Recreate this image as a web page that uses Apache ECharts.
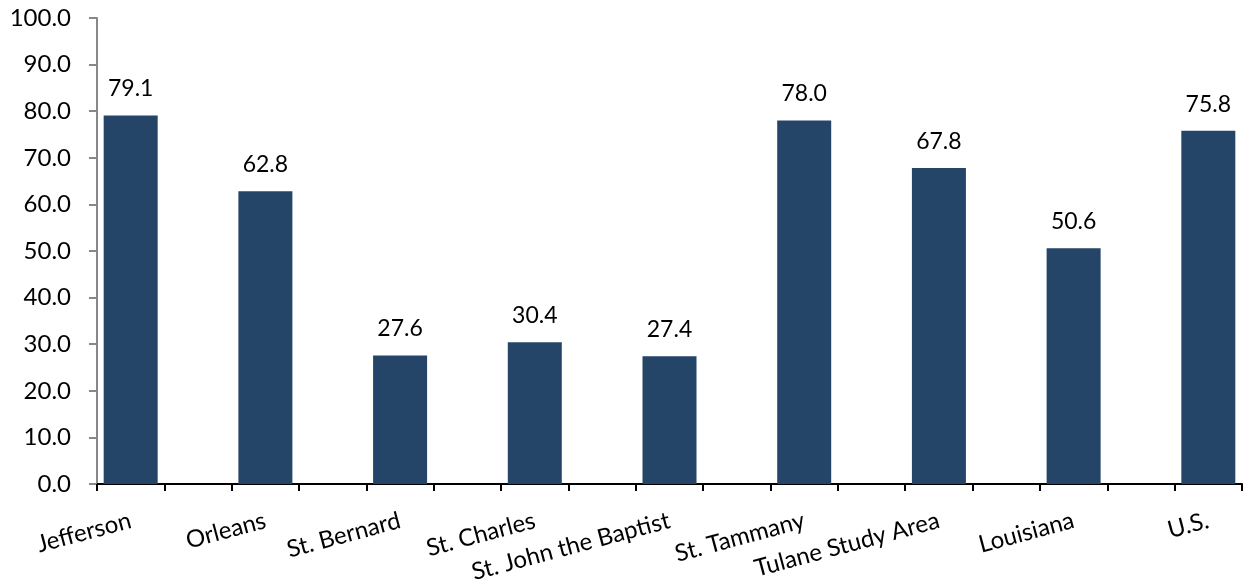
<!DOCTYPE html>
<html><head><meta charset="utf-8">
<script src="https://cdn.jsdelivr.net/npm/echarts@6/dist/echarts.min.js"></script>
<style>html,body{margin:0;padding:0;background:#fff}#c{width:1249px;height:588px}</style>
</head><body><div id="c"></div>
<script>
const categories = ['Jefferson','Orleans','St. Bernard','St. Charles','St. John the Baptist','St. Tammany','Tulane Study Area','Louisiana','U.S.'];
const values = [79.1, 62.8, 27.6, 30.4, 27.4, 78.0, 67.8, 50.6, 75.8];
const yTicks = [0, 10, 20, 30, 40, 50, 60, 70, 80, 90, 100];

// Each category occupies two slots on the axis (bar slot + empty slot), as in the original
const axisCats = [];
const axisVals = [];
categories.forEach((c, i) => {
  axisCats.push(c); axisVals.push(values[i]);
  if (i < categories.length - 1) { axisCats.push(' ' + i); axisVals.push('-'); }
});

const FONT = 'Lato';
const chart = echarts.init(document.getElementById('c'));
chart.setOption({
  animation: false,
  grid: {left: 97, right: 7, top: 18, bottom: 104, containLabel: false},
  xAxis: {
    type: 'category', data: axisCats,
    axisLine: {lineStyle: {color: '#000', width: 2}},
    axisTick: {show: true, interval: 0, length: 7, lineStyle: {color: '#000', width: 2}},
    axisLabel: {interval: 0, rotate: 15, margin: 36, fontFamily: FONT, fontSize: 24, color: '#000',
      formatter: v => v.startsWith(' ') ? '' : v}
  },
  yAxis: {
    type: 'value', min: yTicks[0], max: yTicks[yTicks.length - 1], interval: 10,
    splitLine: {show: false},
    axisLine: {show: true, lineStyle: {color: '#888', width: 2}},
    axisTick: {show: true, length: 8, lineStyle: {color: '#888', width: 2}},
    axisLabel: {margin: 26, fontFamily: FONT, fontSize: 24, color: '#000', formatter: v => v.toFixed(1)}
  },
  series: [{
    type: 'bar', data: axisVals, barWidth: 54,
    itemStyle: {color: '#244468'},
    label: {show: true, position: 'top', distance: 15, fontFamily: FONT, fontSize: 23, color: '#000',
      formatter: p => Number(p.value).toFixed(1)}
  }]
});
</script></body></html>
